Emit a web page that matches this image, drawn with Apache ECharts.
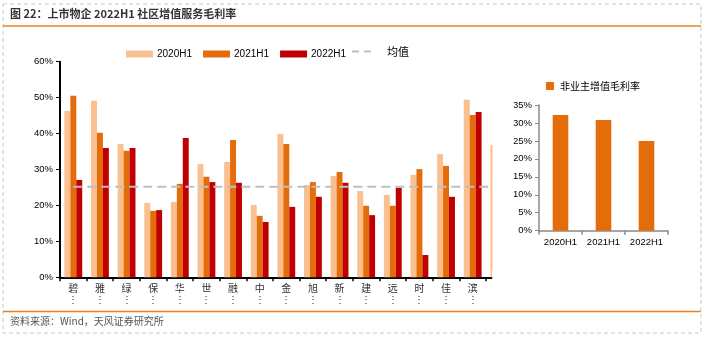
<!DOCTYPE html>
<html><head><meta charset="utf-8">
<script src="https://cdn.jsdelivr.net/npm/echarts@6/dist/echarts.min.js"></script>
<style>html,body{margin:0;padding:0;background:#fff}#c{width:705px;height:340px}</style>
</head><body><div id="c"></div>
<script>
// ---- data ----
var companies = ['碧','雅','绿','保','华','世','融','中','金','旭','新','建','远','时','佳','滨',''];
var s2020 = [46.3,49.1,37.1,20.7,21.0,31.5,32.1,20.1,39.9,25.7,28.2,24.0,22.9,28.5,34.3,49.4,36.8];
var s2021 = [50.5,40.2,35.2,18.5,26.0,28.0,38.2,17.1,37.1,26.5,29.3,19.9,19.9,30.1,31.0,45.2,null];
var s2022 = [27.1,36.0,36.0,18.7,38.8,26.5,26.3,15.4,19.6,22.4,26.3,17.3,24.9,6.2,22.4,46.0,null];
var meanLine = [25.2,25.2,25.2,25.2,25.2,25.2,25.2,25.2,25.2,25.2,25.2,25.2,25.2,25.2,25.2,25.2,25.2];
var periods = ['2020H1','2021H1','2022H1'];
var nonOwner = [32.2,30.8,25.0];
var leftTicks = [0,10,20,30,40,50,60];
var rightTicks = [0,5,10,15,20,25,30,35];

var C1='#FAC090', C2='#E46C0A', C3='#C00000', CM='#BFBFBF';
var numFont = 'Liberation Sans, Arial, sans-serif';
var cjk = '"Noto Sans CJK SC", sans-serif';

var chart = echarts.init(document.getElementById('c'), null, {renderer:'canvas'});
var option = {
  animation:false,
  backgroundColor:'#fff',
  legend:[{
    data:['2020H1','2021H1','2022H1'],
    left:121, top:44,
    itemWidth:27, itemHeight:7, itemGap:11,
    icon:'rect',
    textStyle:{fontFamily:numFont,fontSize:10,color:'#000',padding:[0,0,0,-1]}
  },{
    data:['均值'],
    left:346, top:41,
    itemWidth:22, itemHeight:10, itemGap:0,
    itemStyle:{opacity:0},
    lineStyle:{color:CM,width:2,type:[7,5]},
    textStyle:{fontFamily:cjk,fontSize:11,color:'#000',padding:[0,0,0,8]}
  },{
    data:['非业主增值毛利率'],
    left:541, top:76,
    itemWidth:8, itemHeight:8,
    icon:'rect',
    textStyle:{fontFamily:cjk,fontSize:10,color:'#000',padding:[0,0,0,1]}
  }],
  grid:[
    {left:60, top:61.7, width:452.6, height:215.6, containLabel:false},
    {left:539, top:105, width:129, height:125.7, containLabel:false}
  ],
  xAxis:[{
    type:'category', gridIndex:0, data:companies,
    axisLine:{lineStyle:{color:'#000',width:2}},
    axisTick:{show:true,length:4,lineStyle:{color:'#000',width:1.5}},
    axisLabel:{interval:0,margin:5,fontFamily:cjk,fontSize:10,color:'#333',lineHeight:11,
      formatter:function(v){return v?v+'\n⋮':'';}}
  },{
    type:'category', gridIndex:1, data:periods,
    axisLine:{lineStyle:{color:'#888',width:1.5}},
    axisTick:{show:true,length:4,lineStyle:{color:'#888',width:1.5}},
    axisLabel:{interval:0,hideOverlap:false,margin:7,fontFamily:numFont,fontSize:9.5,color:'#000'}
  }],
  yAxis:[{
    type:'value', gridIndex:0, min:0, max:60, interval:10,
    axisLine:{show:true,lineStyle:{color:'#000',width:2}},
    axisTick:{show:true,length:4,lineStyle:{color:'#000'}},
    splitLine:{show:false},
    axisLabel:{margin:7,fontFamily:numFont,fontSize:9.5,color:'#000',formatter:'{value}%'}
  },{
    type:'value', gridIndex:1, min:0, max:35, interval:5,
    axisLine:{show:true,lineStyle:{color:'#888',width:1.5}},
    axisTick:{show:true,length:4,lineStyle:{color:'#888'}},
    splitLine:{show:false},
    axisLabel:{margin:7,fontFamily:numFont,fontSize:9.5,color:'#000',formatter:'{value}%'}
  }],
  series:[
    {name:'2020H1',type:'bar',xAxisIndex:0,yAxisIndex:0,data:s2020,itemStyle:{color:C1},barGap:'0%',barCategoryGap:'33%'},
    {name:'2021H1',type:'bar',xAxisIndex:0,yAxisIndex:0,data:s2021,itemStyle:{color:C2},barGap:'0%',barCategoryGap:'33%'},
    {name:'2022H1',type:'bar',xAxisIndex:0,yAxisIndex:0,data:s2022,itemStyle:{color:C3},barGap:'0%',barCategoryGap:'33%'},
    {name:'均值',type:'line',xAxisIndex:0,yAxisIndex:0,data:meanLine,symbol:'none',z:5,
      lineStyle:{color:CM,width:2,type:[9,5]},itemStyle:{color:CM}},
    {name:'非业主增值毛利率',type:'bar',xAxisIndex:1,yAxisIndex:1,data:nonOwner,barWidth:15.6,itemStyle:{color:C2}}
  ],
  graphic:[
    {type:'rect',shape:{x:492.5,y:55,width:21,height:250},style:{fill:'#fff'},z:100},
    {type:'rect',shape:{x:492.5,y:268,width:28,height:38},style:{fill:'#fff'},z:100},
    {type:'rect',shape:{x:3,y:4,width:698,height:329},style:{fill:'none',stroke:'#C8C8C8',lineWidth:1,lineDash:[4,3]},z:100},
    {type:'line',shape:{x1:3,y1:26,x2:701,y2:26},style:{stroke:'#EE8222',lineWidth:1.5},z:100},
    {type:'line',shape:{x1:3,y1:311.5,x2:701,y2:311.5},style:{stroke:'#EE8222',lineWidth:1.5},z:100},
    {type:'text',left:10,top:8,z:100,style:{text:'图 22：上市物企 2022H1 社区增值服务毛利率',font:'bold 11px "Noto Sans CJK SC", sans-serif',fill:'#333'}},
    {type:'text',left:10,top:316,z:100,style:{text:'资料来源：Wind，天风证券研究所',font:'10px "Noto Sans CJK SC", sans-serif',fill:'#555'}}
  ]
};
chart.setOption(option);
</script></body></html>
